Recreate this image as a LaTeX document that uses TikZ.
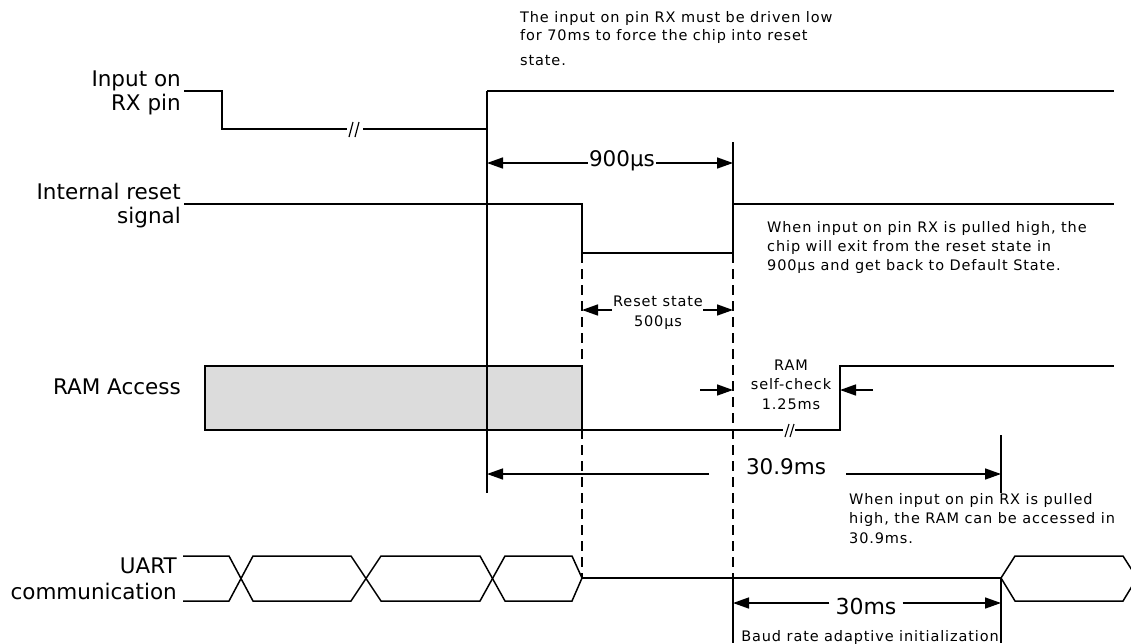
\documentclass[tikz,border=0pt]{standalone}
\usepackage{fontspec}
\setmainfont{DejaVu Sans}
\newfontfamily\notefont[LetterSpace=6]{DejaVu Sans}
\usetikzlibrary{arrows.meta}
\definecolor{ramgray}{HTML}{DCDCDC}
\begin{document}
\begin{tikzpicture}[x=1pt,y=-1pt,
  sig/.style={line width=1.5pt, line join=miter},
  dimarrow/.style={line width=1.5pt, -{Triangle[length=16pt,width=11pt]}},
  guide/.style={line width=1.5pt, dash pattern=on 10pt off 6pt},
  biglabel/.style={font=\fontsize{21.5}{24}\selectfont, inner sep=0pt, align=right, anchor=base east},
  note/.style={font=\notefont\fontsize{14.5}{19.3}\selectfont, inner sep=0pt, align=left, anchor=base west},
  midnote/.style={font=\notefont\fontsize{14.5}{19.4}\selectfont, inner sep=0pt, align=center, anchor=base},
  dimlabel/.style={font=\fontsize{21.5}{24}\selectfont, inner sep=0pt, anchor=base}
]
\useasboundingbox (0,0) rectangle (1131,643);

% ---------- labels (base = last line) ----------
\node[biglabel] (lrx)    at (181,110) {Input on\\RX pin};
\node[biglabel] (lreset) at (181,223) {Internal reset\\signal};
\node[biglabel] (lram)   at (181,394) {RAM Access};
\node[biglabel, font=\fontsize{21.5}{26}\selectfont] (luart) at (177,599) {UART\\communication};

% ---------- RAM access box (drawn first so lines cross it) ----------
\draw[sig, fill=ramgray] (205,366) rectangle (582,430);

% ---------- RX input ----------
\coordinate (rx0) at (184,91);
\coordinate (rxF) at (222,91);
\coordinate (rxL) at (222,129);
\coordinate (rxB1) at (347,129);
\coordinate (rxB2) at (363,129);
\coordinate (rxR) at (487,129);
\coordinate (rxH) at (487,91);
\coordinate (rxE) at (1114,91);
\coordinate (rxBot) at (487,493);
\draw[sig] (rx0) -- (rxF) -- (rxL) -- (rxB1);
\draw[sig] (rxB2) -- (rxR);
\draw[sig] (rxH) -- (rxE);
\draw[sig] (rxH) -- (rxBot);
\draw[line width=1.2pt] (349,137) -- (353,122) (355,137) -- (359,122);

% ---------- internal reset ----------
\coordinate (rs0) at (184,204);
\coordinate (rsF) at (582,204);
\coordinate (rsL) at (582,253);
\coordinate (rsR) at (733,253);
\coordinate (rsH) at (733,204);
\coordinate (rsE) at (1114,204);
\coordinate (mk9top) at (733,142);
\draw[sig] (rs0) -- (rsF) -- (rsL) -- (rsR) -- (rsH) -- (rsE);
\draw[sig] (mk9top) -- (rsR);

% 900us dimension
\node[dimlabel, anchor=center, inner xsep=1pt] (t900) at (622,161) {900µs};
\coordinate (a900l) at (487,163);
\coordinate (a900r) at (733,163);
\draw[dimarrow] (t900.west |- a900l) -- (a900l);
\draw[dimarrow] (t900.east |- a900r) -- (a900r);

% guides
\coordinate (g1b) at (582,578);
\coordinate (g2b) at (733,578);
\draw[guide] (rsL) -- (g1b);
\draw[guide] (rsR) -- (g2b);

% reset state dimension
\node[midnote] (trs) at (658,326) {Reset state\\500µs};
\coordinate (rsa1s) at (612,310);
\coordinate (rsa1e) at (582,310);
\coordinate (rsa2s) at (703,310);
\coordinate (rsa2e) at (733,310);
\draw[dimarrow] (rsa1s) -- (rsa1e);
\draw[dimarrow] (rsa2s) -- (rsa2e);

% middle note
\node[note] (n900) at (767,270.6) {When input on pin RX is pulled high, the\\chip will exit from the reset state in\\900µs and get back to Default State.};

% top note
\node[note, font=\notefont\fontsize{14.5}{18}\selectfont] (ntop) at (520,65.5) {The input on pin RX must be driven low\\for 70ms to force the chip into reset\\[7pt]state.};

% ---------- RAM access signal ----------
\coordinate (ram0) at (582,430);
\coordinate (ramB1) at (783,430);
\coordinate (ramB2) at (795,430);
\coordinate (ramL) at (840,430);
\coordinate (ramH) at (840,366);
\coordinate (ramE) at (1114,366);
\draw[sig] (ram0) -- (ramB1);
\draw[sig] (ramB2) -- (ramL) -- (ramH) -- (ramE);
\draw[line width=1.1pt] (785,437) -- (789,424) (790,437) -- (794,424);

\node[midnote] (tsc) at (791,409) {RAM\\self-check\\1.25ms};
\coordinate (sca1s) at (700,390);
\coordinate (sca1e) at (733,390);
\coordinate (sca2s) at (873,390);
\coordinate (sca2e) at (840,390);
\draw[dimarrow] (sca1s) -- (sca1e);
\draw[dimarrow] (sca2s) -- (sca2e);

% 30.9ms dimension
\node[dimlabel] (t309) at (786,474) {30.9ms};
\coordinate (a309ls) at (709,474);
\coordinate (a309le) at (487,474);
\coordinate (a309rs) at (846,474);
\coordinate (a309re) at (1001,474);
\coordinate (mk309t) at (1001,435);
\coordinate (mk309b) at (1001,493);
\draw[dimarrow] (a309ls) -- (a309le);
\draw[dimarrow] (a309rs) -- (a309re);
\draw[sig] (mk309t) -- (mk309b);

\node[note] (n309) at (849,543) {When input on pin RX is pulled\\high, the RAM can be accessed in\\30.9ms.};

% ---------- UART ----------
\draw[sig] (183,556) -- (229,556) -- (253,601) -- (351,601) -- (381,556) -- (480,556) -- (505,601) -- (572,601) -- (582,578);
\draw[sig] (183,601) -- (229,601) -- (253,556) -- (351,556) -- (381,601) -- (480,601) -- (505,556) -- (572,556) -- (582,578);
\coordinate (u1) at (582,578);
\coordinate (u2) at (1001,578);
\draw[sig] (u1) -- (u2);
\draw[sig] (u2) -- (1015,556) -- (1123,556) -- (1137,578);
\draw[sig] (u2) -- (1015,601) -- (1123,601) -- (1137,578);

% 30ms dimension
\coordinate (m30lb) at (733,643);
\coordinate (m30rb) at (1001,643);
\draw[sig] (g2b) -- (m30lb);
\draw[sig] (u2) -- (m30rb);
\node[dimlabel, font=\fontsize{22}{24}\selectfont, anchor=center, inner xsep=6pt] (t30) at (866,606) {30ms};
\coordinate (a30l) at (733,603);
\coordinate (a30r) at (1001,603);
\draw[dimarrow] (t30.west |- a30l) -- (a30l);
\draw[dimarrow] (t30.east |- a30r) -- (a30r);
\node[midnote] (tbaud) at (870,641) {Baud rate adaptive initialization};
\end{tikzpicture}
\end{document}
